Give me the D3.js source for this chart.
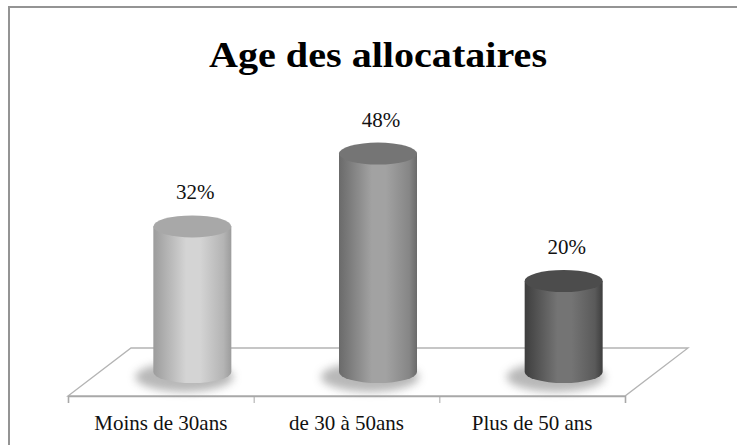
<!DOCTYPE html>
<html>
<head>
<meta charset="utf-8">
<script src="https://cdn.jsdelivr.net/npm/d3@7"></script>
<style>
  html, body { margin: 0; padding: 0; background: #fff; }
  svg { display: block; }
  .axis text { font-family: "Liberation Serif", "DejaVu Serif", serif; fill: #111; }
</style>
</head>
<body>
<svg id="chart" width="737" height="445"></svg>
<script>
"use strict";

// data
const categories = [ 'Moins de 30ans', 'de 30 à 50ans', 'Plus de 50 ans' ];
const values     = [ 32, 48, 20 ];
const valueLabels = [ '32%', '48%', '20%' ];
const title = 'Age des allocataires';

// shades per cylinder: [edge, highlight, right, top]
const shades = [
  [ '#9c9c9c', '#d4d4d4', '#b4b4b4', '#a8a8a8' ],
  [ '#6a6a6a', '#a2a2a2', '#868686', '#757575' ],
  [ '#3e3e3e', '#747474', '#5a5a5a', '#4c4c4c' ]
];

const W = 737, H = 445;
const floor = { left: 68, right: 625, front: 396, dx: 63, dy: -48 };
const rx = 39, ry = 11;

const svg = d3.select('#chart');
const defs = svg.append('defs');

// frame
svg.append('path')
    .attr('d', `M9,${H} L9,7 L${W},7`)
    .attr('fill', 'none')
    .attr('stroke', '#949494')
    .attr('stroke-width', 2);

// title
svg.append('text')
    .attr('x', 378)
    .attr('y', 67)
    .attr('text-anchor', 'middle')
    .attr('textLength', 338)
    .attr('lengthAdjust', 'spacingAndGlyphs')
    .style('font-family', '"Liberation Serif", "DejaVu Serif", serif')
    .style('font-weight', 'bold')
    .style('font-size', '36px')
    .style('fill', '#000')
    .text(title);

// scales
const x = d3.scaleBand()
    .domain(categories)
    .range([floor.left, floor.right]);

const edges = d3.scaleLinear()
    .domain([0, categories.length])
    .range([floor.left, floor.right]);

const base = floor.front + floor.dy / 2;
const y = d3.scaleLinear()
    .domain([0, 50])
    .range([base, base - 227.5]);

// floor
svg.append('path')
    .attr('d', `M${floor.left},${floor.front} L${floor.left + floor.dx},${floor.front + floor.dy}
                L${floor.right + floor.dx},${floor.front + floor.dy} L${floor.right},${floor.front} Z`)
    .attr('fill', '#fff')
    .attr('stroke', '#b4b4b4')
    .attr('stroke-width', 1.3);

// front edge ticks
svg.append('g')
    .attr('class', 'axis')
    .attr('transform', `translate(0,${floor.front})`)
    .call(d3.axisBottom(edges).tickValues(d3.range(categories.length + 1)).tickSize(7).tickFormat(''))
    .call(g => g.select('.domain').attr('stroke', '#a8a8a8').attr('stroke-width', 1.6))
    .call(g => g.selectAll('.tick line').attr('stroke', '#a8a8a8'));

// category labels
svg.append('g')
    .attr('class', 'axis')
    .attr('transform', `translate(0,${floor.front})`)
    .call(d3.axisBottom(x).tickSize(0).tickPadding(19))
    .call(g => g.select('.domain').remove())
    .call(g => g.selectAll('text').style('font-size', '21px'));

// shadow filter
defs.append('filter')
    .attr('id', 'blur')
    .attr('x', '-50%').attr('y', '-100%').attr('width', '200%').attr('height', '300%')
  .append('feGaussianBlur')
    .attr('stdDeviation', 4);

// gradients
shades.forEach((s, i) => {
  const g = defs.append('linearGradient')
      .attr('id', 'cyl' + i)
      .attr('x1', 0).attr('x2', 1).attr('y1', 0).attr('y2', 0);
  [[0, s[0]], [0.42, s[1]], [0.6, s[1]], [0.9, s[2]], [1, s[0]]].forEach(st => {
    g.append('stop').attr('offset', st[0]).attr('stop-color', st[1]);
  });
});

const data = categories.map((c, i) => ({ name: c, v: values[i], label: valueLabels[i], i: i }));
const cx = d => x(d.name) + x.bandwidth() / 2 + floor.dx / 2;

const bars = svg.selectAll('.bar')
    .data(data)
  .enter().append('g')
    .attr('class', 'bar');

// shadow
bars.append('ellipse')
    .attr('cx', d => cx(d) - 8)
    .attr('cy', base + 5)
    .attr('rx', rx + 10)
    .attr('ry', ry + 4)
    .attr('fill', '#9a9a9a')
    .attr('opacity', 0.7)
    .attr('filter', 'url(#blur)');

// side
bars.append('path')
    .attr('d', d => {
      const l = cx(d) - rx, r = cx(d) + rx, t = y(d.v);
      return `M${l},${t} L${l},${base} A${rx},${ry} 0 0 0 ${r},${base} L${r},${t} Z`;
    })
    .attr('fill', d => `url(#cyl${d.i})`);

// top
bars.append('ellipse')
    .attr('cx', cx)
    .attr('cy', d => y(d.v))
    .attr('rx', rx)
    .attr('ry', ry)
    .attr('fill', d => shades[d.i][3]);

// value labels
bars.append('text')
    .attr('x', d => cx(d) + 3)
    .attr('y', d => y(d.v) - 27)
    .attr('text-anchor', 'middle')
    .style('font-family', '"Liberation Serif", "DejaVu Serif", serif')
    .style('font-size', '21px')
    .style('fill', '#111')
    .text(d => d.label);
</script>
</body>
</html>
